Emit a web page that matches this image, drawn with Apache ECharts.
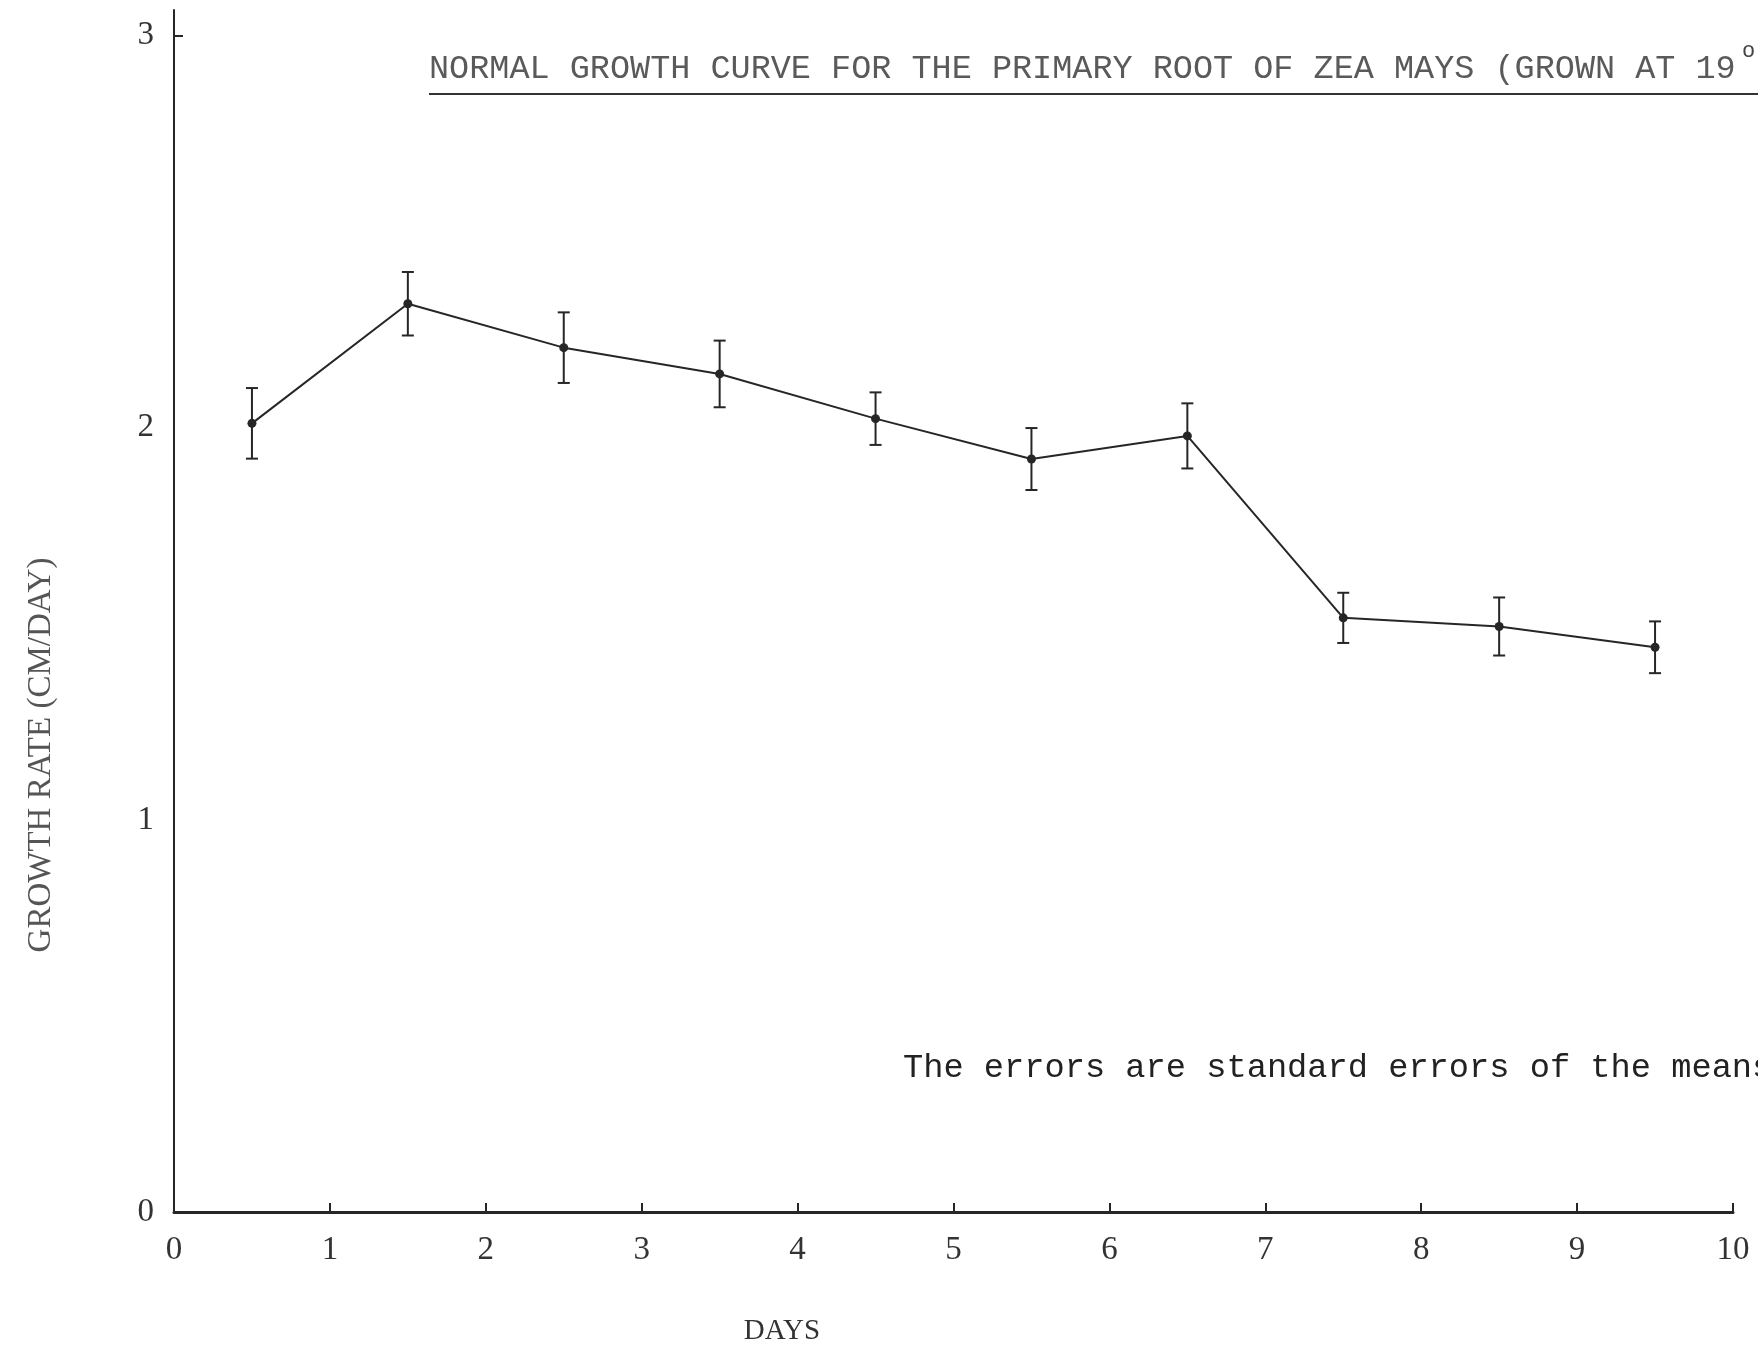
<!DOCTYPE html>
<html>
<head>
<meta charset="utf-8">
<title>Growth rate of the primary root of Zea mays</title>
<script src="https://cdn.jsdelivr.net/npm/echarts@6/dist/echarts.min.js"></script>
<style>
  html, body { margin: 0; padding: 0; background: #ffffff; }
  #chart { width: 1758px; height: 1347px; }
</style>
</head>
<body>
<div id="chart"></div>
<script>
// Day of measurement (mid-point of each daily interval)
const days = [0.5, 1.5, 2.5, 3.5, 4.5, 5.5, 6.5, 7.5, 8.5, 9.5];
// Mean growth rate, cm/day
const growthRate = [2.011, 2.316, 2.204, 2.137, 2.023, 1.920, 1.979, 1.515, 1.493, 1.440];
// Standard error of each mean, cm/day
const stdError = [0.090, 0.081, 0.090, 0.085, 0.067, 0.079, 0.083, 0.064, 0.074, 0.066];
// Axis tick values
const xTickValues = [0, 1, 2, 3, 4, 5, 6, 7, 8, 9, 10];
const yTickValues = [0, 1, 2, 3];

const titleText = 'NORMAL GROWTH CURVE FOR THE PRIMARY ROOT OF ZEA MAYS (GROWN AT 19';
const noteText = 'The errors are standard errors of the means';
const yName = 'GROWTH RATE (CM/DAY)';
const xName = 'DAYS';

const ink = '#262626';
const serif = '"Liberation Serif", "DejaVu Serif", serif';
const mono = '"Liberation Mono", "DejaVu Sans Mono", monospace';

const points = days.map((d, i) => [d, growthRate[i]]);
const bars = days.map((d, i) => [d, growthRate[i] - stdError[i], growthRate[i] + stdError[i]]);

const chart = echarts.init(document.getElementById('chart'), null, { renderer: 'canvas' });

chart.setOption({
  backgroundColor: '#ffffff',
  animation: false,
  grid: { left: 174, right: 25, top: 10, bottom: 135, containLabel: false },
  xAxis: {
    type: 'value',
    min: 0,
    max: 10,
    interval: 1,
    axisLine: { show: true, onZero: false, lineStyle: { color: ink, width: 3 } },
    axisTick: { show: true, inside: true, length: 9, lineStyle: { color: ink, width: 2 },
                customValues: xTickValues.slice(1) },
    axisLabel: { show: true, margin: 22, fontFamily: serif, fontSize: 33, color: '#333',
                 customValues: xTickValues },
    splitLine: { show: false }
  },
  yAxis: {
    type: 'value',
    min: 0,
    max: 3.065,
    axisLine: { show: true, onZero: false, lineStyle: { color: ink, width: 2 } },
    axisTick: { show: true, inside: true, length: 9, lineStyle: { color: ink, width: 2 },
                customValues: [3] },
    axisLabel: { show: true, margin: 20, fontFamily: serif, fontSize: 33, color: '#333',
                 customValues: yTickValues },
    splitLine: { show: false }
  },
  series: [
    {
      type: 'custom',
      name: 'Standard error',
      data: bars,
      z: 3,
      renderItem: function (params, api) {
        const x = api.value(0);
        const lo = api.coord([x, api.value(1)]);
        const hi = api.coord([x, api.value(2)]);
        const half = 6;
        const style = { stroke: ink, lineWidth: 2 };
        return {
          type: 'group',
          children: [
            { type: 'line', shape: { x1: lo[0], y1: lo[1], x2: hi[0], y2: hi[1] }, style: style },
            { type: 'line', shape: { x1: hi[0] - half, y1: hi[1], x2: hi[0] + half, y2: hi[1] }, style: style },
            { type: 'line', shape: { x1: lo[0] - half, y1: lo[1], x2: lo[0] + half, y2: lo[1] }, style: style }
          ]
        };
      }
    },
    {
      type: 'line',
      name: 'Growth rate',
      data: points,
      z: 4,
      symbol: 'circle',
      symbolSize: 9,
      itemStyle: { color: ink },
      lineStyle: { color: ink, width: 2 }
    }
  ],
  graphic: [
    {
      type: 'text',
      left: 429,
      top: 52,
      style: { text: titleText, font: '33.5px ' + mono, fill: '#5a5a5a' }
    },
    {
      type: 'text',
      left: 1742,
      top: 40,
      style: { text: 'o', font: '22px ' + mono, fill: '#444' }
    },
    {
      type: 'line',
      shape: { x1: 429, y1: 94, x2: 1758, y2: 94 },
      style: { stroke: '#333', lineWidth: 2 }
    },
    {
      type: 'text',
      left: 903,
      top: 1051,
      style: { text: noteText, font: '33.7px ' + mono, fill: '#222' }
    },
    {
      type: 'text',
      x: 41,
      y: 755,
      rotation: Math.PI / 2,
      style: { text: yName, font: '33px ' + serif, fill: '#555', align: 'center', verticalAlign: 'middle' }
    },
    {
      type: 'text',
      x: 782,
      y: 1331,
      style: { text: xName, font: '29px ' + serif, fill: '#333', align: 'center', verticalAlign: 'middle' }
    }
  ]
});
</script>
</body>
</html>
